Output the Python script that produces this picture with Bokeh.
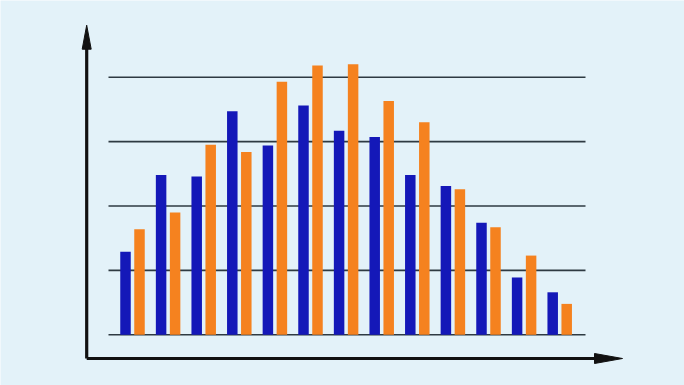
from bokeh.plotting import figure
from bokeh.models import Range1d
from bokeh.embed import file_html
from bokeh.resources import INLINE

# Data (values in gridline units)
categories = [str(i) for i in range(1, 14)]
series_blue = [1.29, 2.48, 2.46, 3.47, 2.94, 3.56, 3.17, 3.07, 2.48, 2.31, 1.74, 0.89, 0.66]
series_orange = [1.64, 1.90, 2.95, 2.84, 3.93, 4.18, 4.20, 3.63, 3.30, 2.26, 1.67, 1.23, 0.48]
grid_levels = [0, 1, 2, 3, 4]

W, H = 684, 385
PX_X = 35.6   # pixels per category
PX_Y = 64.4   # pixels per value unit
x0 = -132 / PX_X
y0 = -(H - 334.3) / PX_Y

p = figure(width=W, height=H, output_backend="svg", toolbar_location=None,
           x_range=Range1d(x0, x0 + W / PX_X), y_range=Range1d(y0, y0 + H / PX_Y),
           min_border=0, outline_line_color=None)
p.axis.visible = False
p.grid.visible = False
p.background_fill_color = "#e3f2f9"
p.border_fill_color = "#e3f2f9"

dx = lambda px: px / PX_X
dy = lambda px: px / PX_Y

n = len(categories)
xs = list(range(n))

# gridlines
gx0 = -0.5 - dx(6.2)
gx1 = n - 1 + 0.5 + dx(8)
p.segment(x0=[gx0] * len(grid_levels), y0=grid_levels, x1=[gx1] * len(grid_levels), y1=grid_levels,
          line_color="#2e3a42", line_width=1.6)

# bars
bw = dx(10.5)
off = dx(7)
p.vbar(x=[x - off for x in xs], top=series_blue, bottom=0, width=bw, fill_color="#1418b8", line_color=None)
p.vbar(x=[x + off for x in xs], top=series_orange, bottom=0, width=bw, fill_color="#f5821f", line_color=None)

# axes with arrows
ax = -0.5 - dx(28)
ay = -dy(23.7)
ytop = max(grid_levels) + dy(52)
xend = n - 1 + 0.5 + dx(45)
p.segment(x0=[ax, ax], y0=[ay, ay], x1=[ax, xend - dx(20)], y1=[ytop - dy(20), ay],
          line_color="#111111", line_width=3.2)
# y arrow head
p.patch(x=[ax - dx(4.5), ax, ax + dx(4.5)], y=[ytop - dy(24), ytop, ytop - dy(24)],
        fill_color="#111111", line_color="#111111")
# x arrow head
p.patch(x=[xend - dx(28), xend, xend - dx(28)], y=[ay + dy(5), ay, ay - dy(5)],
        fill_color="#111111", line_color="#111111")

open("out.html", "w").write(file_html(p, INLINE))
